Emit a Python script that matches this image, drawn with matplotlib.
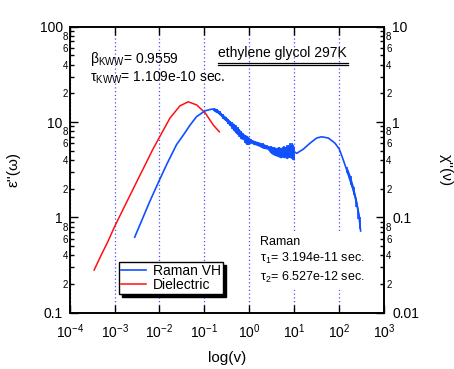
import numpy as np
import matplotlib
matplotlib.use('Agg')
import matplotlib.pyplot as plt
from matplotlib.ticker import LogLocator, FuncFormatter, NullLocator
from matplotlib.lines import Line2D

plt.rcParams['font.family'] = ['Liberation Sans', 'DejaVu Sans']
plt.rcParams['mathtext.fontset'] = 'custom'
plt.rcParams['mathtext.rm'] = 'Liberation Sans'
plt.rcParams['mathtext.it'] = 'Liberation Sans'
plt.rcParams['mathtext.default'] = 'regular'

# ---- data ----
# dielectric loss (left axis)
diel_freq = [3.5e-4, 5e-4, 7e-4, 1e-3, 1.5e-3, 2.2e-3, 3.3e-3, 5e-3, 7e-3,
             0.0106, 0.0171, 0.0286, 0.0438, 0.0676, 0.105, 0.158, 0.215]
diel_eps = [0.28, 0.40, 0.55, 0.80, 1.18, 1.70, 2.50, 3.70, 5.1,
            7.3, 11.0, 14.8, 16.3, 15.1, 12.4, 9.3, 7.9]

# Raman VH susceptibility (right axis)
raman_freq = [2.8e-3, 4e-3, 6e-3, 0.01, 0.0145, 0.024, 0.034, 0.048, 0.067,
              0.103, 0.148, 0.20, 0.264, 0.35, 0.44, 0.55, 0.73, 1.0, 1.46,
              2.44, 4.07, 6.8, 9.9, 11.4, 16, 22.5, 31.6, 40.9, 57.5, 81,
              101, 124, 148, 175, 207, 247, 277, 302]
raman_chi = [0.062, 0.092, 0.145, 0.247, 0.36, 0.58, 0.73, 0.93, 1.14,
             1.31, 1.37, 1.28, 1.14, 1.02, 0.93, 0.82, 0.73, 0.65, 0.60,
             0.54, 0.49, 0.47, 0.49, 0.47, 0.52, 0.60, 0.68, 0.70, 0.68, 0.60,
             0.52, 0.40, 0.314, 0.247, 0.194, 0.141, 0.102, 0.072]

# spread of the noisy Raman data (low / high envelope)
noise_freq = [0.16, 0.19, 0.22, 0.26, 0.30, 0.34, 0.38, 0.42, 0.46, 0.50,
              0.55, 0.60, 0.66, 0.72, 0.80, 0.90, 0.95, 1.1, 1.3, 1.6, 2.0,
              2.5, 3.0, 3.5, 4.0, 4.5, 5.0, 5.5, 6.0, 6.5, 7.0, 7.5, 8.0,
              8.5, 9.0, 9.5, 10.0, 150, 180, 210, 240, 270, 290]
noise_lo = [1.30, 1.25, 1.18, 1.08, 1.02, 0.95, 0.90, 0.84, 0.80, 0.76,
            0.74, 0.70, 0.66, 0.66, 0.60, 0.58, 0.58, 0.60, 0.58, 0.56, 0.53,
            0.52, 0.47, 0.45, 0.44, 0.43, 0.42, 0.43, 0.42, 0.43, 0.41, 0.43,
            0.42, 0.43, 0.41, 0.40, 0.40, 0.29, 0.22, 0.17, 0.13, 0.095, 0.075]
noise_hi = [1.42, 1.38, 1.30, 1.20, 1.14, 1.08, 1.02, 0.99, 0.96, 0.92,
            0.88, 0.84, 0.80, 0.76, 0.74, 0.72, 0.70, 0.66, 0.64, 0.62, 0.60,
            0.57, 0.56, 0.55, 0.54, 0.55, 0.54, 0.55, 0.56, 0.55, 0.57, 0.58,
            0.60, 0.58, 0.60, 0.58, 0.55, 0.34, 0.27, 0.21, 0.16, 0.12, 0.10]

BLUE = '#1050ff'
RED = '#ff1010'

fig = plt.figure(figsize=(4.54, 3.69), dpi=100)
ax = fig.add_axes([0.1535, 0.1526, 0.6923, 0.775])
ax2 = ax.twinx()

ax.set_xscale('log')
ax.set_yscale('log')
ax2.set_yscale('log')
ax.set_xlim(1e-4, 1e3)
ax.set_ylim(0.1, 100)
ax2.set_ylim(0.01, 10)

ax.grid(axis='x', which='major', color='#4a4aff', ls=(0, (1, 2)), lw=0.9)

l_diel, = ax.plot(diel_freq, diel_eps, color=RED, lw=1.1)
l_ram, = ax2.plot(raman_freq, raman_chi, color=BLUE, lw=1.2)

nf = np.array(noise_freq)
lo = np.array(noise_lo)
hi = np.array(noise_hi)
for m in (nf <= 10, nf >= 100):
    ax2.fill_between(nf[m], lo[m], hi[m], color=BLUE, lw=0)
ax2.vlines(noise_freq, noise_lo, noise_hi, color=BLUE, lw=1.2)


def major_fmt(v, pos):
    return '%g' % v


def minor_fmt(v, pos):
    m = v / 10 ** np.floor(np.log10(v) + 1e-9)
    m = int(round(m))
    return str(m) if m in (2, 4, 6, 8) else ''


for a in (ax, ax2):
    a.yaxis.set_major_locator(LogLocator(base=10, numticks=10))
    a.yaxis.set_minor_locator(LogLocator(base=10, subs=range(2, 10), numticks=20))
    a.yaxis.set_major_formatter(FuncFormatter(major_fmt))
    a.yaxis.set_minor_formatter(FuncFormatter(minor_fmt))

ax.xaxis.set_major_locator(LogLocator(base=10, numticks=12))
ax.xaxis.set_minor_locator(NullLocator())

ax.tick_params(axis='both', which='major', direction='in', length=6, width=1,
               labelsize=10, pad=5, top=True)
ax.tick_params(axis='x', which='major', pad=7)
ax.tick_params(axis='y', which='minor', direction='in', length=3, width=1,
               labelsize=7, pad=1)
ax2.tick_params(axis='y', which='major', direction='in', length=6, width=1,
                labelsize=10, pad=6)
ax2.tick_params(axis='y', which='minor', direction='in', length=3, width=1,
                labelsize=7, pad=1.5)

for a in (ax, ax2):
    for s in a.spines.values():
        s.set_linewidth(1.2)

ax.set_xlabel('log(v)', fontsize=11, labelpad=7)
ax.set_ylabel("ε''(ω)", fontsize=11, labelpad=14)
ax2.set_ylabel("χ''(ν)", fontsize=11, rotation=-90, va='bottom', labelpad=14)

ax2.text(0.065, 0.887, r'$\beta_{KWW}$= 0.9559', transform=ax.transAxes,
         fontsize=10, va='center', ha='left')
ax2.text(0.065, 0.821, r'$\tau_{KWW}$= 1.109e-10 sec.', transform=ax.transAxes,
         fontsize=10, va='center', ha='left')

ax2.text(0.677, 0.908, 'ethylene glycol 297K', transform=ax.transAxes,
         fontsize=10, va='center', ha='center')
for yy in (0.8725, 0.8655):
    ax2.add_line(Line2D([0.472, 0.8855], [yy, yy], transform=ax.transAxes,
                        color='black', lw=0.9))

ax2.text(0.605, 0.268, 'Raman\n' + r'$\tau_1$= 3.194e-11 sec.' + '\n' +
         r'$\tau_2$= 6.527e-12 sec.', transform=ax.transAxes, fontsize=9,
         va='top', ha='left', linespacing=1.3,
         bbox=dict(facecolor='white', edgecolor='none', pad=4))

leg = ax2.legend([l_ram, l_diel], ['Raman VH', 'Dielectric'], loc='upper left',
                 bbox_to_anchor=(0.157, 0.177), borderaxespad=0, fontsize=10,
                 fancybox=False, edgecolor='black', framealpha=1,
                 shadow={'color': 'black', 'alpha': 1},
                 handlelength=1.8, handletextpad=0.5, borderpad=0.15,
                 labelspacing=0.0)

fig.savefig('out.png', dpi=100)
